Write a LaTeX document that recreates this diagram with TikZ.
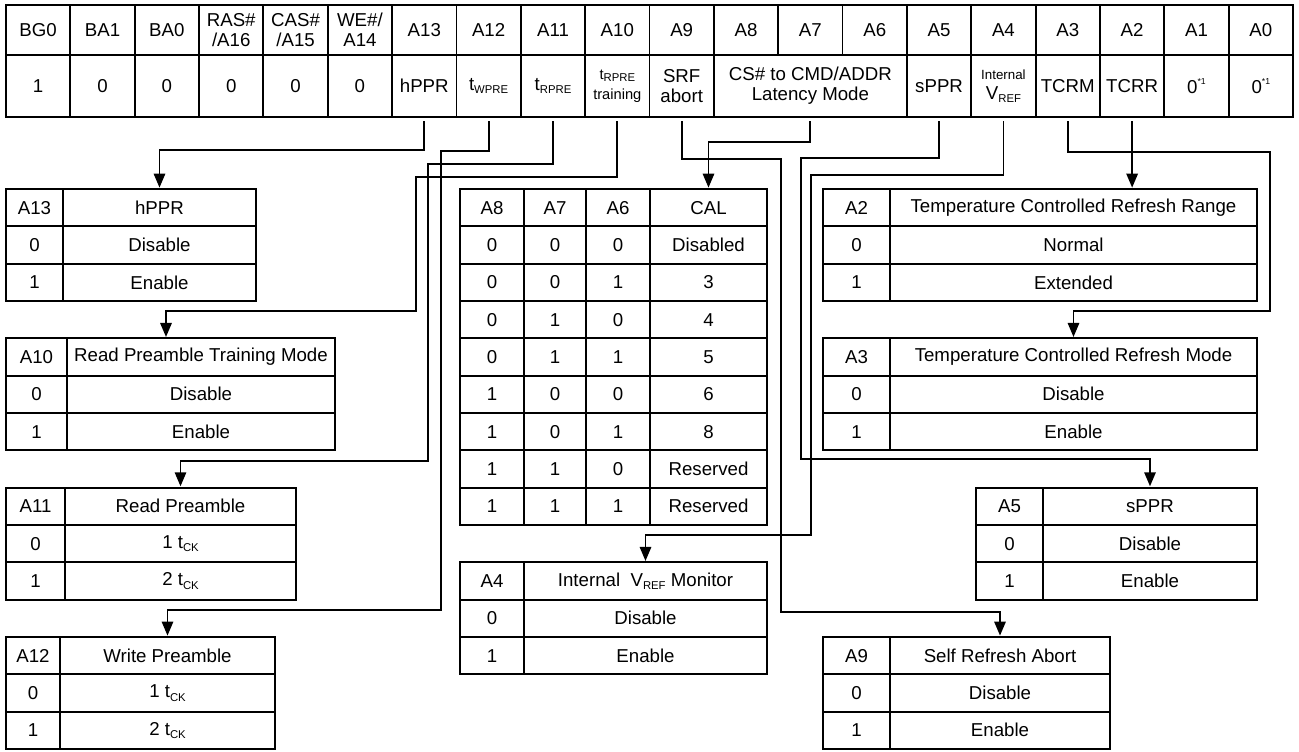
\documentclass[tikz,border=0pt]{standalone}
\usepackage{fontspec}
\setmainfont{Liberation Sans}
\usetikzlibrary{arrows.meta,calc}
\newcommand\sbs[1]{\raisebox{-0.35ex}{\fontsize{8.5pt}{9pt}\selectfont #1}}
\newcommand\sps[1]{\raisebox{0.9ex}{\fontsize{6.5pt}{7pt}\selectfont #1}}
\newcommand\smf{\fontsize{11pt}{13pt}\selectfont}
\newcommand\ry[1]{189+37.33*(#1)}
\newcommand\tcell[6]{\node[cellbox, minimum width={((#4)-(#2))*0.75pt}, minimum height={((#5)-(#3))*0.75pt}] (#1) at ({((#2)+(#4))/2},{((#3)+(#5))/2}) {#6};}
\newcommand\trow[7]{\tcell{#1a#2}{#3}{\ry{#2}}{#4}{\ry{#2+1}}{#6}\tcell{#1b#2}{#4}{\ry{#2}}{#5}{\ry{#2+1}}{#7}}
\newcommand\calrow[5]{%
 \tcell{calA#1}{460}{\ry{#1}}{524}{\ry{#1+1}}{#2}%
 \tcell{calB#1}{524}{\ry{#1}}{586}{\ry{#1+1}}{#3}%
 \tcell{calC#1}{586}{\ry{#1}}{650}{\ry{#1+1}}{#4}%
 \tcell{calD#1}{650}{\ry{#1}}{767}{\ry{#1+1}}{#5}}
\tikzset{
 cellbox/.style={draw, line width=1.4pt, inner sep=0pt, outer sep=0pt, align=center, font=\fontsize{14pt}{15pt}\selectfont},
 conn/.style={line width=1.4pt},
 arr/.style={conn, -{Triangle[length=10.5pt,width=8.5pt]}, shorten >=1pt}
}
\begin{document}
\begin{tikzpicture}[x=0.75pt,y=-0.75pt]
\useasboundingbox (0,0) rectangle (1299,751);
% main table, row 1
\tcell{mh0}{6}{5}{70.35}{55}{BG0}
\tcell{mh1}{70.35}{5}{134.7}{55}{BA1}
\tcell{mh2}{134.7}{5}{199.05}{55}{BA0}
\tcell{mh3}{199.05}{5}{263.4}{55}{RAS\#\\/A16}
\tcell{mh4}{263.4}{5}{327.75}{55}{CAS\#\\/A15}
\tcell{mh5}{327.75}{5}{392.1}{55}{WE\#/\\A14}
\tcell{mh6}{392.1}{5}{456.45}{55}{A13}
\tcell{mh7}{456.45}{5}{520.8}{55}{A12}
\tcell{mh8}{520.8}{5}{585.15}{55}{A11}
\tcell{mh9}{585.15}{5}{649.5}{55}{A10}
\tcell{mh10}{649.5}{5}{713.85}{55}{A9}
\tcell{mh11}{713.85}{5}{778.2}{55}{A8}
\tcell{mh12}{778.2}{5}{842.55}{55}{A7}
\tcell{mh13}{842.55}{5}{906.9}{55}{A6}
\tcell{mh14}{906.9}{5}{971.25}{55}{A5}
\tcell{mh15}{971.25}{5}{1035.6}{55}{A4}
\tcell{mh16}{1035.6}{5}{1099.95}{55}{A3}
\tcell{mh17}{1099.95}{5}{1164.3}{55}{A2}
\tcell{mh18}{1164.3}{5}{1228.65}{55}{A1}
\tcell{mh19}{1228.65}{5}{1293}{55}{A0}
% main table, row 2
\tcell{mv0}{6}{55}{70.35}{117}{1}
\tcell{mv1}{70.35}{55}{134.7}{117}{0}
\tcell{mv2}{134.7}{55}{199.05}{117}{0}
\tcell{mv3}{199.05}{55}{263.4}{117}{0}
\tcell{mv4}{263.4}{55}{327.75}{117}{0}
\tcell{mv5}{327.75}{55}{392.1}{117}{0}
\tcell{mv6}{392.1}{55}{456.45}{117}{hPPR}
\tcell{mv7}{456.45}{55}{520.8}{117}{t\sbs{WPRE}}
\tcell{mv8}{520.8}{55}{585.15}{117}{t\sbs{RPRE}}
\tcell{mv9}{585.15}{55}{649.5}{117}{{\smf t\sbs{RPRE}}\\{\smf training}}
\tcell{mv10}{649.5}{55}{713.85}{117}{SRF\\abort}
\tcell{mv11}{713.85}{55}{906.9}{117}{CS\# to CMD/ADDR\\Latency Mode}
\tcell{mv14}{906.9}{55}{971.25}{117}{sPPR}
\tcell{mv15}{971.25}{55}{1035.6}{117}{{\fontsize{10pt}{12pt}\selectfont Internal}\\V\sbs{REF}}
\tcell{mv16}{1035.6}{55}{1099.95}{117}{TCRM}
\tcell{mv17}{1099.95}{55}{1164.3}{117}{TCRR}
\tcell{mv18}{1164.3}{55}{1228.65}{117}{0\sps{*1}}
\tcell{mv19}{1228.65}{55}{1293}{117}{0\sps{*1}}
% left tables
\trow{t13}{0}{6}{63}{256}{A13}{hPPR}
\trow{t13}{1}{6}{63}{256}{0}{Disable}
\trow{t13}{2}{6}{63}{256}{1}{Enable}
\trow{t10}{4}{6}{67}{335}{A10}{Read Preamble Training Mode}
\trow{t10}{5}{6}{67}{335}{0}{Disable}
\trow{t10}{6}{6}{67}{335}{1}{Enable}
\trow{t11}{8}{6}{65}{296}{A11}{Read Preamble}
\trow{t11}{9}{6}{65}{296}{0}{1 t\sbs{CK}}
\trow{t11}{10}{6}{65}{296}{1}{2 t\sbs{CK}}
\trow{t12}{12}{6}{60}{275}{A12}{Write Preamble}
\trow{t12}{13}{6}{60}{275}{0}{1 t\sbs{CK}}
\trow{t12}{14}{6}{60}{275}{1}{2 t\sbs{CK}}
% CAL table
\calrow{0}{A8}{A7}{A6}{CAL}
\calrow{1}{0}{0}{0}{Disabled}
\calrow{2}{0}{0}{1}{3}
\calrow{3}{0}{1}{0}{4}
\calrow{4}{0}{1}{1}{5}
\calrow{5}{1}{0}{0}{6}
\calrow{6}{1}{0}{1}{8}
\calrow{7}{1}{1}{0}{Reserved}
\calrow{8}{1}{1}{1}{Reserved}
% A4 table
\trow{t4}{10}{460}{524}{767}{A4}{Internal\ \ V\sbs{REF} Monitor}
\trow{t4}{11}{460}{524}{767}{0}{Disable}
\trow{t4}{12}{460}{524}{767}{1}{Enable}
% right tables
\trow{t2}{0}{823}{890}{1257}{A2}{Temperature Controlled Refresh Range}
\trow{t2}{1}{823}{890}{1257}{0}{Normal}
\trow{t2}{2}{823}{890}{1257}{1}{Extended}
\trow{t3}{4}{823}{890}{1257}{A3}{Temperature Controlled Refresh Mode}
\trow{t3}{5}{823}{890}{1257}{0}{Disable}
\trow{t3}{6}{823}{890}{1257}{1}{Enable}
\trow{t5}{8}{976}{1043}{1257}{A5}{sPPR}
\trow{t5}{9}{976}{1043}{1257}{0}{Disable}
\trow{t5}{10}{976}{1043}{1257}{1}{Enable}
\trow{t9}{12}{823}{890}{1110}{A9}{Self Refresh Abort}
\trow{t9}{13}{823}{890}{1110}{0}{Disable}
\trow{t9}{14}{823}{890}{1110}{1}{Enable}
% connectors
\draw[arr] ([yshift=-3pt]mv6.south) |- (t13b0.north |- 0,150) -- (t13b0.north);
\draw[arr] ([yshift=-3pt]mv7.south) |- (441,151) |- (t12b12.north |- 0,610) -- (t12b12.north);
\draw[arr] ([yshift=-3pt]mv8.south) |- (428,164) |- (t11b8.north |- 0,461) -- (t11b8.north);
\draw[arr] ([yshift=-3pt]mv9.south) |- (416,177) |- (166,311) -- (t10b4.north -| 166,0);
\draw[arr] ([yshift=-3pt]mv10.south) |- (781,159) |- (t9b12.north |- 0,612) -- (t9b12.north);
\draw[arr] ([yshift=-3pt]mv11.south) |- (calD0.north |- 0,142) -- (calD0.north);
\draw[arr] ([yshift=-3pt]mv14.south) |- (801,158) |- (t5b8.north |- 0,459) -- (t5b8.north);
\draw[arr] ([yshift=-3pt]mv15.south) |- (811,175) |- (t4b10.north |- 0,535) -- (t4b10.north);
\draw[arr] ([yshift=-3pt]mv16.south) |- (1270,152) |- (t3b4.north |- 0,311) -- (t3b4.north);
\draw[arr] ([yshift=-3pt]mv17.south) -- (mv17.south |- t2b0.north);
\end{tikzpicture}
\end{document}
